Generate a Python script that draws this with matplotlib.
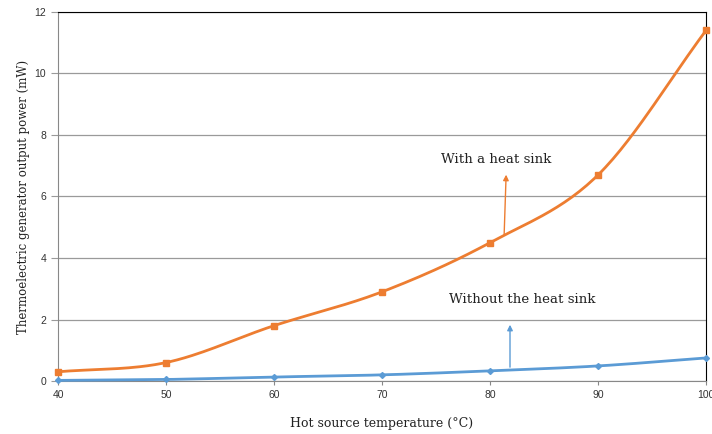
import numpy as np
import matplotlib
matplotlib.use("Agg")
import matplotlib.pyplot as plt

temps = [40, 50, 60, 70, 80, 90, 100]
with_sink = [0.3, 0.6, 1.8, 2.9, 4.5, 6.7, 11.4]
without_sink = [0.02, 0.05, 0.13, 0.2, 0.33, 0.49, 0.75]
yticks = [0, 2, 4, 6, 8, 10, 12]

ORANGE = "#ED7D31"
BLUE = "#5B9BD5"


def smooth(x, y, n=30):
    # Catmull-Rom style smoothing (like spreadsheet smoothed lines)
    x = np.asarray(x, float)
    y = np.asarray(y, float)
    px = np.concatenate([[2 * x[0] - x[1]], x, [2 * x[-1] - x[-2]]])
    py = np.concatenate([[2 * y[0] - y[1]], y, [2 * y[-1] - y[-2]]])
    xs, ys = [], []
    t = np.linspace(0, 1, n)
    for i in range(1, len(px) - 2):
        p0, p1, p2, p3 = (np.array([px[j], py[j]]) for j in range(i - 1, i + 3))
        m1 = (p2 - p0) / 2
        m2 = (p3 - p1) / 2
        h00 = 2 * t**3 - 3 * t**2 + 1
        h10 = t**3 - 2 * t**2 + t
        h01 = -2 * t**3 + 3 * t**2
        h11 = t**3 - t**2
        pts = (np.outer(h00, p1) + np.outer(h10, m1) + np.outer(h01, p2) + np.outer(h11, m2))
        xs.extend(pts[:, 0])
        ys.extend(pts[:, 1])
    return np.array(xs), np.array(ys)


fig = plt.figure(figsize=(7.12, 4.34), dpi=100)
ax = fig.add_axes([0.0815, 0.1221, 0.9101, 0.8503])

ax.set_xlim(40, 100)
ax.set_ylim(0, 12)
ax.set_yticks(yticks)
ax.set_xticks(temps)
ax.grid(axis="y", color="#9A9A9A", linewidth=0.9)
ax.set_axisbelow(True)

sx, sy = smooth(temps, with_sink)
ax.plot(sx, sy, color=ORANGE, linewidth=2, clip_on=False, zorder=3)
ax.plot(temps, with_sink, "s", color=ORANGE, markersize=5, clip_on=False, zorder=4)

bx, by = smooth(temps, without_sink)
ax.plot(bx, by, color=BLUE, linewidth=2, clip_on=False, zorder=3)
ax.plot(temps, without_sink, "D", color=BLUE, markersize=3, clip_on=False, zorder=4)

ax.annotate("", xy=(81.5, 6.8), xytext=(81.3, 4.68),
            arrowprops=dict(arrowstyle="-|>", color=ORANGE, lw=1, mutation_scale=8))
ax.annotate("", xy=(81.85, 1.92), xytext=(81.85, 0.36),
            arrowprops=dict(arrowstyle="-|>", color=BLUE, lw=1, mutation_scale=8))
ax.text(80.6, 7.19, "With a heat sink", ha="center", va="center",
        fontsize=9.6, family="DejaVu Serif", color="#222222")
ax.text(83.0, 2.65, "Without the heat sink", ha="center", va="center",
        fontsize=9.6, family="DejaVu Serif", color="#222222")

for s in ["left", "bottom"]:
    ax.spines[s].set_color("#888888")
for s in ["top", "right"]:
    ax.spines[s].set_color("black")
ax.tick_params(axis="both", labelsize=7.5, colors="#333333", length=3)
ax.tick_params(axis="y", length=5, color="#9A9A9A")
ax.tick_params(axis="x", color="#888888")
for lab in ax.get_xticklabels() + ax.get_yticklabels():
    lab.set_family("Liberation Sans")

ax.set_xlabel("Hot source temperature (°C)", fontsize=9, family="DejaVu Serif",
              color="#222222", labelpad=12)
ax.set_ylabel("Thermoelectric generator output power (mW)", fontsize=8.5,
              family="DejaVu Serif", color="#222222", labelpad=3)

fig.savefig("out.png", dpi=100)
